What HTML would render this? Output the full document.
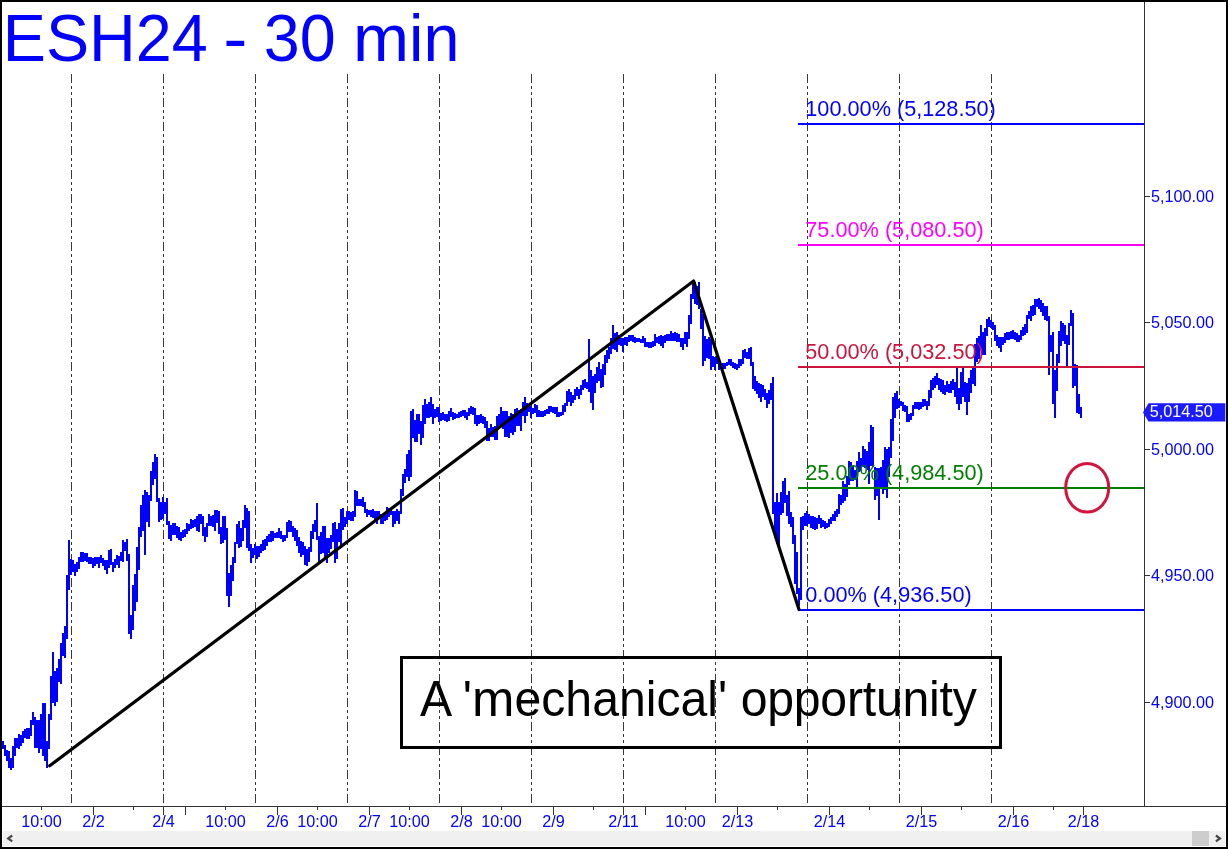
<!DOCTYPE html>
<html><head><meta charset="utf-8"><title>ESH24 - 30 min</title>
<style>html,body{margin:0;padding:0;background:#fff;}body{width:1228px;height:849px;overflow:hidden;font-family:"Liberation Sans",sans-serif;}svg{display:block;will-change:transform;}</style></head>
<body>
<svg width="1228" height="849" viewBox="0 0 1228 849" font-family="'Liberation Sans', sans-serif">
<rect x="0" y="0" width="1228" height="849" fill="#fff"/>
<g stroke="#383838" stroke-width="1" stroke-dasharray="9 3 3 3 3 3" shape-rendering="crispEdges">
<line x1="71.5" y1="74" x2="71.5" y2="803"/>
<line x1="163.5" y1="74" x2="163.5" y2="803"/>
<line x1="255.5" y1="74" x2="255.5" y2="803"/>
<line x1="347.5" y1="74" x2="347.5" y2="803"/>
<line x1="439.5" y1="74" x2="439.5" y2="803"/>
<line x1="531.5" y1="74" x2="531.5" y2="803"/>
<line x1="623.5" y1="74" x2="623.5" y2="803"/>
<line x1="715.5" y1="74" x2="715.5" y2="803"/>
<line x1="807.5" y1="74" x2="807.5" y2="803"/>
<line x1="899.5" y1="74" x2="899.5" y2="803"/>
<line x1="991.5" y1="74" x2="991.5" y2="803"/>
</g>
<path d="M2 741h2V749h-2zM4 745h2V756h-2zM6 750h2V761h-2zM8 751h2V768h-2zM10 758h2V770h-2zM12 746h2V768h-2zM14 738h2V756h-2zM16 738h2V748h-2zM18 734h2V749h-2zM20 735h2V746h-2zM22 731h2V743h-2zM24 729h2V738h-2zM26 728h2V739h-2zM28 728h2V739h-2zM30 720h2V736h-2zM32 712h2V725h-2zM34 717h2V748h-2zM36 720h2V748h-2zM38 720h2V753h-2zM40 714h2V749h-2zM42 703h2V756h-2zM44 703h2V761h-2zM46 741h2V768h-2zM48 714h2V749h-2zM50 676h2V720h-2zM52 652h2V703h-2zM54 671h2V706h-2zM56 668h2V702h-2zM58 659h2V682h-2zM60 643h2V684h-2zM62 633h2V656h-2zM64 626h2V658h-2zM66 575h2V639h-2zM68 540h2V590h-2zM70 559h2V575h-2zM72 560h2V572h-2zM74 564h2V576h-2zM76 562h2V572h-2zM78 557h2V569h-2zM80 552h2V562h-2zM82 552h2V562h-2zM84 553h2V561h-2zM86 553h2V562h-2zM88 557h2V564h-2zM90 557h2V564h-2zM92 558h2V568h-2zM94 557h2V566h-2zM96 557h2V564h-2zM98 557h2V568h-2zM100 555h2V563h-2zM102 558h2V566h-2zM104 560h2V570h-2zM106 560h2V574h-2zM108 550h2V568h-2zM110 549h2V565h-2zM112 562h2V572h-2zM114 559h2V568h-2zM116 555h2V565h-2zM118 556h2V568h-2zM120 552h2V561h-2zM122 540h2V562h-2zM124 542h2V551h-2zM126 539h2V561h-2zM128 554h2V634h-2zM130 615h2V639h-2zM132 585h2V630h-2zM134 574h2V611h-2zM136 547h2V602h-2zM138 527h2V570h-2zM140 505h2V537h-2zM142 495h2V531h-2zM144 490h2V555h-2zM146 492h2V522h-2zM148 495h2V527h-2zM150 471h2V501h-2zM152 462h2V485h-2zM154 454h2V479h-2zM156 457h2V502h-2zM158 498h2V522h-2zM160 502h2V520h-2zM162 497h2V519h-2zM164 502h2V514h-2zM166 498h2V525h-2zM168 521h2V539h-2zM170 525h2V541h-2zM172 523h2V535h-2zM174 523h2V535h-2zM176 526h2V538h-2zM178 527h2V540h-2zM180 532h2V541h-2zM182 530h2V538h-2zM184 529h2V537h-2zM186 523h2V534h-2zM188 524h2V531h-2zM190 519h2V529h-2zM192 520h2V528h-2zM194 519h2V527h-2zM196 516h2V531h-2zM198 514h2V532h-2zM200 514h2V524h-2zM202 516h2V536h-2zM204 527h2V542h-2zM206 523h2V537h-2zM208 514h2V526h-2zM210 516h2V526h-2zM212 515h2V527h-2zM214 510h2V531h-2zM216 510h2V523h-2zM218 511h2V534h-2zM220 527h2V544h-2zM222 516h2V543h-2zM224 516h2V540h-2zM226 528h2V596h-2zM228 573h2V607h-2zM230 565h2V596h-2zM232 557h2V581h-2zM234 542h2V563h-2zM236 524h2V544h-2zM238 521h2V548h-2zM240 528h2V547h-2zM242 520h2V541h-2zM244 505h2V528h-2zM246 508h2V548h-2zM248 511h2V551h-2zM250 544h2V563h-2zM252 548h2V558h-2zM254 544h2V555h-2zM256 546h2V559h-2zM258 546h2V557h-2zM260 544h2V553h-2zM262 540h2V551h-2zM264 539h2V550h-2zM266 536h2V546h-2zM268 534h2V542h-2zM270 531h2V542h-2zM272 531h2V541h-2zM274 533h2V538h-2zM276 532h2V538h-2zM278 528h2V538h-2zM280 531h2V539h-2zM282 535h2V542h-2zM284 535h2V541h-2zM286 522h2V538h-2zM288 520h2V532h-2zM290 521h2V532h-2zM292 526h2V537h-2zM294 528h2V541h-2zM296 530h2V546h-2zM298 537h2V553h-2zM300 541h2V557h-2zM302 542h2V555h-2zM304 546h2V565h-2zM306 549h2V566h-2zM308 547h2V562h-2zM310 531h2V552h-2zM312 524h2V539h-2zM314 520h2V532h-2zM316 503h2V540h-2zM318 536h2V562h-2zM320 532h2V554h-2zM322 526h2V553h-2zM324 526h2V560h-2zM326 538h2V563h-2zM328 538h2V553h-2zM330 535h2V549h-2zM332 523h2V542h-2zM334 522h2V563h-2zM336 529h2V559h-2zM338 523h2V542h-2zM340 509h2V548h-2zM342 508h2V530h-2zM344 517h2V527h-2zM346 511h2V524h-2zM348 511h2V520h-2zM350 512h2V521h-2zM352 511h2V521h-2zM354 490h2V517h-2zM356 491h2V506h-2zM358 499h2V506h-2zM360 499h2V506h-2zM362 497h2V507h-2zM364 502h2V513h-2zM366 509h2V517h-2zM368 510h2V515h-2zM370 510h2V517h-2zM372 509h2V518h-2zM374 511h2V520h-2zM376 511h2V524h-2zM378 511h2V519h-2zM380 514h2V524h-2zM382 514h2V524h-2zM384 512h2V521h-2zM386 507h2V520h-2zM388 508h2V517h-2zM390 509h2V515h-2zM392 511h2V527h-2zM394 511h2V524h-2zM396 509h2V521h-2zM398 511h2V524h-2zM400 489h2V514h-2zM402 474h2V496h-2zM404 469h2V483h-2zM406 454h2V477h-2zM408 450h2V481h-2zM410 411h2V477h-2zM412 409h2V438h-2zM414 420h2V442h-2zM416 414h2V442h-2zM418 414h2V434h-2zM420 421h2V445h-2zM422 405h2V438h-2zM424 399h2V424h-2zM426 404h2V418h-2zM428 402h2V418h-2zM430 397h2V417h-2zM432 404h2V424h-2zM434 409h2V418h-2zM436 407h2V417h-2zM438 407h2V422h-2zM440 413h2V421h-2zM442 412h2V420h-2zM444 414h2V421h-2zM446 414h2V422h-2zM448 411h2V421h-2zM450 408h2V417h-2zM452 412h2V420h-2zM454 413h2V419h-2zM456 414h2V418h-2zM458 412h2V418h-2zM460 411h2V417h-2zM462 410h2V416h-2zM464 410h2V418h-2zM466 412h2V420h-2zM468 408h2V416h-2zM470 406h2V414h-2zM472 407h2V415h-2zM474 408h2V424h-2zM476 415h2V426h-2zM478 415h2V424h-2zM480 414h2V423h-2zM482 416h2V424h-2zM484 417h2V428h-2zM486 421h2V441h-2zM488 428h2V441h-2zM490 424h2V437h-2zM492 427h2V437h-2zM494 426h2V440h-2zM496 416h2V440h-2zM498 414h2V427h-2zM500 407h2V427h-2zM502 411h2V429h-2zM504 411h2V437h-2zM506 411h2V437h-2zM508 416h2V438h-2zM510 413h2V433h-2zM512 414h2V435h-2zM514 409h2V432h-2zM516 408h2V426h-2zM518 410h2V426h-2zM520 409h2V431h-2zM522 402h2V416h-2zM524 397h2V423h-2zM526 403h2V416h-2zM528 404h2V412h-2zM530 406h2V418h-2zM532 408h2V414h-2zM534 404h2V413h-2zM536 405h2V417h-2zM538 410h2V417h-2zM540 411h2V417h-2zM542 411h2V417h-2zM544 410h2V416h-2zM546 409h2V414h-2zM548 406h2V414h-2zM550 406h2V412h-2zM552 407h2V413h-2zM554 407h2V414h-2zM556 407h2V417h-2zM558 412h2V417h-2zM560 412h2V416h-2zM562 405h2V415h-2zM564 403h2V412h-2zM566 391h2V406h-2zM568 389h2V402h-2zM570 392h2V406h-2zM572 395h2V403h-2zM574 389h2V400h-2zM576 387h2V396h-2zM578 389h2V399h-2zM580 385h2V395h-2zM582 380h2V390h-2zM584 379h2V388h-2zM586 382h2V389h-2zM588 339h2V392h-2zM590 370h2V403h-2zM592 376h2V410h-2zM594 374h2V393h-2zM596 367h2V383h-2zM598 362h2V381h-2zM600 369h2V388h-2zM602 364h2V387h-2zM604 355h2V375h-2zM606 350h2V363h-2zM608 347h2V359h-2zM610 338h2V354h-2zM612 325h2V349h-2zM614 333h2V350h-2zM616 332h2V352h-2zM618 335h2V345h-2zM620 338h2V346h-2zM622 338h2V352h-2zM624 337h2V345h-2zM626 337h2V346h-2zM628 335h2V342h-2zM630 335h2V341h-2zM632 335h2V342h-2zM634 337h2V343h-2zM636 338h2V342h-2zM638 338h2V342h-2zM640 339h2V343h-2zM642 336h2V343h-2zM644 338h2V347h-2zM646 342h2V347h-2zM648 342h2V348h-2zM650 342h2V348h-2zM652 341h2V347h-2zM654 334h2V346h-2zM656 337h2V343h-2zM658 336h2V344h-2zM660 335h2V346h-2zM662 336h2V348h-2zM664 335h2V343h-2zM666 334h2V341h-2zM668 334h2V341h-2zM670 331h2V341h-2zM672 333h2V341h-2zM674 332h2V341h-2zM676 333h2V342h-2zM678 334h2V342h-2zM680 338h2V347h-2zM682 338h2V350h-2zM684 332h2V344h-2zM686 332h2V347h-2zM688 315h2V339h-2zM690 294h2V324h-2zM692 282h2V299h-2zM694 282h2V304h-2zM696 286h2V305h-2zM698 282h2V309h-2zM700 309h2V329h-2zM702 314h2V366h-2zM704 336h2V361h-2zM706 339h2V358h-2zM708 337h2V359h-2zM710 339h2V370h-2zM712 356h2V367h-2zM714 357h2V370h-2zM716 357h2V364h-2zM718 363h2V370h-2zM720 363h2V369h-2zM722 363h2V369h-2zM724 363h2V369h-2zM726 362h2V366h-2zM728 359h2V365h-2zM730 359h2V366h-2zM732 362h2V368h-2zM734 363h2V369h-2zM736 364h2V370h-2zM738 359h2V368h-2zM740 359h2V366h-2zM742 350h2V364h-2zM744 349h2V358h-2zM746 352h2V359h-2zM748 348h2V359h-2zM750 347h2V366h-2zM752 362h2V389h-2zM754 376h2V391h-2zM756 381h2V394h-2zM758 383h2V398h-2zM760 384h2V402h-2zM762 385h2V397h-2zM764 389h2V400h-2zM766 393h2V408h-2zM768 390h2V404h-2zM770 383h2V400h-2zM772 377h2V514h-2zM774 502h2V538h-2zM776 493h2V544h-2zM778 502h2V545h-2zM780 492h2V515h-2zM782 481h2V513h-2zM784 478h2V503h-2zM786 495h2V516h-2zM788 491h2V524h-2zM790 512h2V527h-2zM792 517h2V544h-2zM794 535h2V584h-2zM796 552h2V594h-2zM798 588h2V606h-2zM800 517h2V600h-2zM802 516h2V530h-2zM804 513h2V526h-2zM806 511h2V526h-2zM808 514h2V524h-2zM810 516h2V528h-2zM812 516h2V529h-2zM814 517h2V530h-2zM816 518h2V529h-2zM818 515h2V524h-2zM820 518h2V528h-2zM822 520h2V527h-2zM824 521h2V529h-2zM826 523h2V528h-2zM828 519h2V527h-2zM830 517h2V524h-2zM832 514h2V521h-2zM834 511h2V521h-2zM836 509h2V517h-2zM838 494h2V514h-2zM840 495h2V505h-2zM842 481h2V503h-2zM844 484h2V501h-2zM846 476h2V497h-2zM848 461h2V485h-2zM850 462h2V481h-2zM852 466h2V481h-2zM854 470h2V480h-2zM856 461h2V487h-2zM858 452h2V472h-2zM860 458h2V471h-2zM862 446h2V467h-2zM864 449h2V468h-2zM866 451h2V470h-2zM868 442h2V484h-2zM870 425h2V466h-2zM872 427h2V467h-2zM874 467h2V500h-2zM876 468h2V496h-2zM878 468h2V520h-2zM880 467h2V488h-2zM882 460h2V494h-2zM884 447h2V490h-2zM886 449h2V498h-2zM888 447h2V477h-2zM890 419h2V458h-2zM892 397h2V441h-2zM894 393h2V418h-2zM896 391h2V409h-2zM898 399h2V408h-2zM900 401h2V406h-2zM902 402h2V411h-2zM904 405h2V412h-2zM906 406h2V422h-2zM908 414h2V422h-2zM910 413h2V420h-2zM912 405h2V416h-2zM914 402h2V409h-2zM916 402h2V409h-2zM918 402h2V410h-2zM920 402h2V409h-2zM922 399h2V407h-2zM924 399h2V406h-2zM926 401h2V410h-2zM928 390h2V406h-2zM930 380h2V398h-2zM932 378h2V390h-2zM934 376h2V388h-2zM936 373h2V385h-2zM938 378h2V390h-2zM940 379h2V392h-2zM942 380h2V394h-2zM944 385h2V395h-2zM946 381h2V392h-2zM948 384h2V393h-2zM950 381h2V393h-2zM952 379h2V390h-2zM954 382h2V397h-2zM956 367h2V404h-2zM958 388h2V410h-2zM960 372h2V404h-2zM962 367h2V397h-2zM964 382h2V402h-2zM966 383h2V415h-2zM968 378h2V402h-2zM970 370h2V393h-2zM972 367h2V384h-2zM974 344h2V386h-2zM976 338h2V362h-2zM978 336h2V359h-2zM980 325h2V349h-2zM982 332h2V355h-2zM984 328h2V355h-2zM986 319h2V336h-2zM988 317h2V327h-2zM990 320h2V328h-2zM992 322h2V330h-2zM994 325h2V341h-2zM996 335h2V346h-2zM998 337h2V348h-2zM1000 337h2V352h-2zM1002 337h2V345h-2zM1004 333h2V343h-2zM1006 332h2V340h-2zM1008 332h2V340h-2zM1010 331h2V339h-2zM1012 330h2V339h-2zM1014 332h2V340h-2zM1016 333h2V342h-2zM1018 335h2V342h-2zM1020 330h2V340h-2zM1022 327h2V336h-2zM1024 324h2V335h-2zM1026 315h2V333h-2zM1028 311h2V319h-2zM1030 306h2V321h-2zM1032 305h2V316h-2zM1034 299h2V315h-2zM1036 299h2V307h-2zM1038 298h2V309h-2zM1040 300h2V312h-2zM1042 303h2V316h-2zM1044 306h2V320h-2zM1046 306h2V321h-2zM1048 316h2V375h-2zM1050 335h2V352h-2zM1052 332h2V404h-2zM1054 370h2V418h-2zM1056 354h2V391h-2zM1058 331h2V363h-2zM1060 321h2V346h-2zM1062 323h2V341h-2zM1064 325h2V344h-2zM1066 335h2V366h-2zM1068 323h2V345h-2zM1070 310h2V326h-2zM1072 313h2V388h-2zM1074 364h2V386h-2zM1076 365h2V413h-2zM1078 394h2V414h-2zM1080 407h2V418h-2z" fill="#0000ff" shape-rendering="crispEdges"/>
<line x1="798" y1="124" x2="1144" y2="124" stroke="#0000ff" stroke-width="2" shape-rendering="crispEdges"/>
<text x="805.3" y="116.1" font-size="21.7" fill="#0000ff">100.00% (5,128.50)</text>
<line x1="798" y1="245" x2="1144" y2="245" stroke="#ff00ff" stroke-width="2" shape-rendering="crispEdges"/>
<text x="805.3" y="237.1" font-size="21.7" fill="#ff00ff">75.00% (5,080.50)</text>
<line x1="798" y1="367" x2="1144" y2="367" stroke="#cc143c" stroke-width="2" shape-rendering="crispEdges"/>
<text x="805.3" y="359.1" font-size="21.7" fill="#cc143c">50.00% (5,032.50)</text>
<line x1="798" y1="488" x2="1144" y2="488" stroke="#008000" stroke-width="2" shape-rendering="crispEdges"/>
<text x="805.3" y="480.1" font-size="21.7" fill="#008000">25.00% (4,984.50)</text>
<line x1="798" y1="610" x2="1144" y2="610" stroke="#0000ff" stroke-width="2" shape-rendering="crispEdges"/>
<text x="805.3" y="602.1" font-size="21.7" fill="#0000ff">0.00% (4,936.50)</text>
<polyline points="49.7,765.8 693.6,281 799,609.6" fill="none" stroke="#000" stroke-width="3.2" stroke-linejoin="round" stroke-linecap="round"/>
<ellipse cx="1087.2" cy="487.8" rx="21.5" ry="24.3" fill="none" stroke="#d4143c" stroke-width="3"/>
<rect x="401.5" y="657.5" width="599" height="90" fill="none" stroke="#000" stroke-width="3"/>
<text transform="translate(420 716) scale(1 1.05)" font-size="48.2" fill="#000">A '<tspan textLength="42.4" lengthAdjust="spacingAndGlyphs">m</tspan>echanical' <tspan letter-spacing="-0.23">opportunity</tspan></text>
<text transform="translate(2.8 61) scale(1 1.035)" font-size="64.7" fill="#0000ff">ESH24 <tspan dx="-2.6" textLength="24.2" lengthAdjust="spacingAndGlyphs">-</tspan> <tspan dx="-1.5">30</tspan> <tspan dx="-0.8" textLength="56.1" lengthAdjust="spacingAndGlyphs">m</tspan>in</text>
<g stroke="#333" stroke-width="1" shape-rendering="crispEdges">
<line x1="1144.5" y1="2" x2="1144.5" y2="806"/>
<line x1="2" y1="806.5" x2="1226" y2="806.5"/>
<line x1="1145" y1="196.5" x2="1150" y2="196.5"/>
<line x1="1145" y1="322.5" x2="1150" y2="322.5"/>
<line x1="1145" y1="449.5" x2="1150" y2="449.5"/>
<line x1="1145" y1="575.5" x2="1150" y2="575.5"/>
<line x1="1145" y1="702.5" x2="1150" y2="702.5"/>
<line x1="41.5" y1="806" x2="41.5" y2="810"/>
<line x1="133.5" y1="806" x2="133.5" y2="810"/>
<line x1="225.5" y1="806" x2="225.5" y2="810"/>
<line x1="317.5" y1="806" x2="317.5" y2="810"/>
<line x1="409.5" y1="806" x2="409.5" y2="810"/>
<line x1="501.5" y1="806" x2="501.5" y2="810"/>
<line x1="593.5" y1="806" x2="593.5" y2="810"/>
<line x1="685.5" y1="806" x2="685.5" y2="810"/>
<line x1="777.5" y1="806" x2="777.5" y2="810"/>
<line x1="869.5" y1="806" x2="869.5" y2="810"/>
<line x1="961.5" y1="806" x2="961.5" y2="810"/>
<line x1="1053.5" y1="806" x2="1053.5" y2="810"/>
<line x1="93.5" y1="806" x2="93.5" y2="815"/>
<line x1="185.5" y1="806" x2="185.5" y2="815"/>
<line x1="277.5" y1="806" x2="277.5" y2="815"/>
<line x1="369.5" y1="806" x2="369.5" y2="815"/>
<line x1="461.5" y1="806" x2="461.5" y2="815"/>
<line x1="553.5" y1="806" x2="553.5" y2="815"/>
<line x1="645.5" y1="806" x2="645.5" y2="815"/>
<line x1="737.5" y1="806" x2="737.5" y2="815"/>
<line x1="829.5" y1="806" x2="829.5" y2="815"/>
<line x1="921.5" y1="806" x2="921.5" y2="815"/>
<line x1="1013.5" y1="806" x2="1013.5" y2="815"/>
<line x1="163.5" y1="806" x2="163.5" y2="815"/>
<line x1="623.5" y1="806" x2="623.5" y2="815"/>
<line x1="1083.5" y1="806" x2="1083.5" y2="815"/>
</g>
<text x="1151" y="202" font-size="16.2" fill="#0000ff">5,100.00</text>
<text x="1151" y="328" font-size="16.2" fill="#0000ff">5,050.00</text>
<text x="1151" y="455" font-size="16.2" fill="#0000ff">5,000.00</text>
<text x="1151" y="581" font-size="16.2" fill="#0000ff">4,950.00</text>
<text x="1151" y="708" font-size="16.2" fill="#0000ff">4,900.00</text>
<text x="41.5" y="827" font-size="16.2" fill="#0000ff" text-anchor="middle">10:00</text>
<text x="93.5" y="827" font-size="16.2" fill="#0000ff" text-anchor="middle">2/2</text>
<text x="163.5" y="827" font-size="16.2" fill="#0000ff" text-anchor="middle">2/4</text>
<text x="225.5" y="827" font-size="16.2" fill="#0000ff" text-anchor="middle">10:00</text>
<text x="277.5" y="827" font-size="16.2" fill="#0000ff" text-anchor="middle">2/6</text>
<text x="317.5" y="827" font-size="16.2" fill="#0000ff" text-anchor="middle">10:00</text>
<text x="369.5" y="827" font-size="16.2" fill="#0000ff" text-anchor="middle">2/7</text>
<text x="409.5" y="827" font-size="16.2" fill="#0000ff" text-anchor="middle">10:00</text>
<text x="461.5" y="827" font-size="16.2" fill="#0000ff" text-anchor="middle">2/8</text>
<text x="501.5" y="827" font-size="16.2" fill="#0000ff" text-anchor="middle">10:00</text>
<text x="553.5" y="827" font-size="16.2" fill="#0000ff" text-anchor="middle">2/9</text>
<text x="623.5" y="827" font-size="16.2" fill="#0000ff" text-anchor="middle">2/11</text>
<text x="685.5" y="827" font-size="16.2" fill="#0000ff" text-anchor="middle">10:00</text>
<text x="737.5" y="827" font-size="16.2" fill="#0000ff" text-anchor="middle">2/13</text>
<text x="829.5" y="827" font-size="16.2" fill="#0000ff" text-anchor="middle">2/14</text>
<text x="921.5" y="827" font-size="16.2" fill="#0000ff" text-anchor="middle">2/15</text>
<text x="1013.5" y="827" font-size="16.2" fill="#0000ff" text-anchor="middle">2/16</text>
<text x="1083.5" y="827" font-size="16.2" fill="#0000ff" text-anchor="middle">2/18</text>
<path d="M1143 412.4 L1148.5 403.2 H1225.3 V421.6 H1148.5 Z" fill="#1a1aff"/>
<text x="1149.8" y="417" font-size="16.2" fill="#fff">5,014.50</text>
<rect x="3" y="831" width="1222" height="15" fill="#f0f0f0"/>
<rect x="1192" y="831" width="17" height="15" fill="#cdcdcd"/>
<path d="M12.2 835.5 L8.2 838.4 L12.2 841.3" fill="none" stroke="#484848" stroke-width="2.2"/>
<path d="M1215.9 835.5 L1219.9 838.4 L1215.9 841.3" fill="none" stroke="#484848" stroke-width="2.2"/>
<path d="M0 0H1228V849H0Z M2 2V847H1226V2Z" fill="#000" fill-rule="evenodd"/>
</svg>
</body></html>
